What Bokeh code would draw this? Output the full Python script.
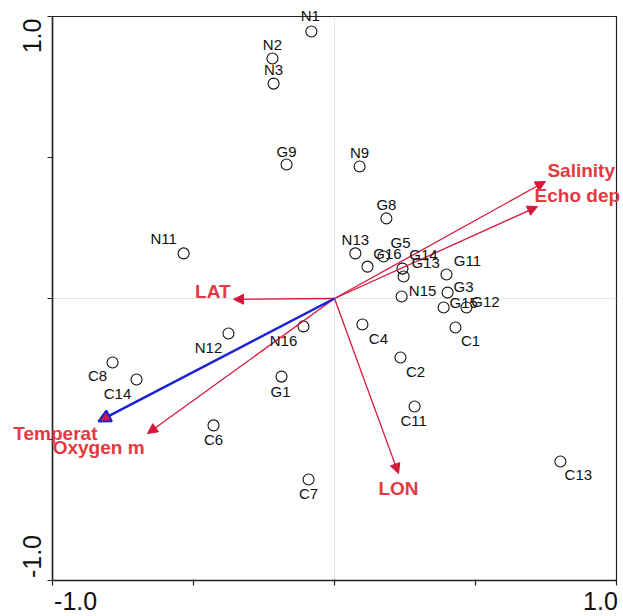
from bokeh.plotting import figure
from bokeh.models import (ColumnDataSource, Range1d, Arrow, NormalHead,
                          FixedTicker, CustomJSTickFormatter)
from bokeh.core.properties import value
from bokeh.embed import file_html
from bokeh.resources import INLINE

# ---- site scores ----
site_names = ["N1", "N2", "N3", "G9", "N9", "G8", "N13", "N11", "G16", "G5", "G14", "G13",
              "G11", "G3", "N15", "G15", "G12", "C1", "C4", "C2", "C11", "C13", "C7", "C6",
              "G1", "N16", "N12", "C14", "C8"]
site_x = [-0.082, -0.220, -0.216, -0.170, 0.089, 0.184, 0.074, -0.535, 0.117, 0.174, 0.241, 0.245,
          0.397, 0.401, 0.238, 0.387, 0.468, 0.429, 0.099, 0.234, 0.284, 0.801, -0.092, -0.429,
          -0.188, -0.110, -0.376, -0.702, -0.787]
site_y = [0.947, 0.851, 0.762, 0.475, 0.468, 0.284, 0.160, 0.160, 0.113, 0.149, 0.106, 0.078,
          0.085, 0.021, 0.007, -0.032, -0.032, -0.103, -0.092, -0.209, -0.383, -0.578, -0.642, -0.450,
          -0.277, -0.099, -0.124, -0.287, -0.227]
# label placement (pixels, x right / y down)
label_dx = [-1, 0, 0, 0, 0, 0, 0, -20, 20, 17, 21, 22,
            21, 16, 21, 20, 19, 15, 16, 15, -1, 18, 0, 0,
            -1, -20, -20, -19, -15]
label_dy = [-16, -14, -14, -13, -14, -14, -14, -15, -13, -14, -14, -14,
            -14, -6, -6, -5, -6, 13, 14, 14, 14, 13, 14, 14,
            15, 14, 14, 14, 13]

# ---- environmental variables (biplot arrows) ----
env_names = ["Salinity", "Echo dep", "LAT", "LON", "Oxygen m", "Temperat"]
env_x = [0.748, 0.720, -0.358, 0.227, -0.663, -0.837]
env_y = [0.415, 0.326, -0.003, -0.621, -0.479, -0.436]
env_align = ["left", "left", "right", "center", "right", "right"]
env_dx = [2, -3, -3, 0, -3, -1]
env_dy = [-11, -11, -8, 15, 14, 12]

# ---- axes ----
axis_ticks = [-1.0, -0.5, 0.0, 0.5, 1.0]
x_label_pos = [-0.918, 0.943]
y_label_pos = [-0.915, 0.931]
tick_labels = ["-1.0", "1.0"]

RED_TXT = "#e23a3f"
RED_LN = "#d8163a"
BLUE = "#1a22d8"
FONT = "Liberation Sans"

p = figure(width=623, height=616, x_range=Range1d(-1, 1), y_range=Range1d(-1, 1),
           output_backend="svg", toolbar_location=None,
           min_border_left=52, min_border_right=7, min_border_top=16, min_border_bottom=36)

p.outline_line_color = "#222222"
p.outline_line_width = 1.2

fmt_code = "return tick < 0 ? '%s' : '%s'" % (tick_labels[0], tick_labels[1])
for ax, pos in ((p.xaxis, x_label_pos), (p.yaxis, y_label_pos)):
    ax.ticker = FixedTicker(ticks=pos, minor_ticks=axis_ticks)
    ax.formatter = CustomJSTickFormatter(code=fmt_code)
    ax.axis_line_color = "#222222"
    ax.axis_line_width = 1.5
    ax.major_tick_line_color = None
    ax.major_tick_out = 0
    ax.major_tick_in = 0
    ax.minor_tick_line_color = "#222222"
    ax.minor_tick_line_width = 1.2
    ax.minor_tick_out = 5
    ax.minor_tick_in = 1
    ax.major_label_text_font = FONT
    ax.major_label_text_font_size = "25px"
    ax.major_label_text_color = "#111111"
p.xaxis.major_label_standoff = 6
p.yaxis.major_label_standoff = 6
p.yaxis.major_label_orientation = "vertical"

p.xgrid.ticker = FixedTicker(ticks=[0])
p.ygrid.ticker = FixedTicker(ticks=[0])
p.xgrid.grid_line_color = "#e6e6e6"
p.ygrid.grid_line_color = "#e6e6e6"

# sites
src = ColumnDataSource(dict(x=site_x, y=site_y, name=site_names, dx=label_dx, dy=label_dy))
p.scatter("x", "y", source=src, marker="circle", size=11, fill_color=None,
          line_color="#111111", line_width=1.1)
p.text("x", "y", text="name", source=src, x_offset="dx", y_offset="dy",
       text_align="center", text_baseline="middle", text_font=value(FONT),
       text_font_size="15px", text_color="#111111", level="overlay")

# arrows
n = len(env_names)
red_idx = [i for i in range(n) if env_names[i] != "Temperat"]
blue_idx = [i for i in range(n) if env_names[i] == "Temperat"]
red_src = ColumnDataSource(dict(x0=[0.0] * len(red_idx), y0=[0.0] * len(red_idx),
                                x1=[env_x[i] for i in red_idx], y1=[env_y[i] for i in red_idx]))
blue_src = ColumnDataSource(dict(x0=[0.0] * len(blue_idx), y0=[0.0] * len(blue_idx),
                                 x1=[env_x[i] for i in blue_idx], y1=[env_y[i] for i in blue_idx]))
p.add_layout(Arrow(source=red_src, x_start="x0", y_start="y0", x_end="x1", y_end="y1",
                   line_color=RED_LN, line_width=1.3,
                   end=NormalHead(size=10, fill_color=RED_LN, line_color=RED_LN, line_width=1)))
p.add_layout(Arrow(source=blue_src, x_start="x0", y_start="y0", x_end="x1", y_end="y1",
                   line_color=BLUE, line_width=2.5,
                   end=NormalHead(size=12, fill_color=RED_LN, line_color=BLUE, line_width=2)))

env_src = ColumnDataSource(dict(x=env_x, y=env_y, name=env_names, align=env_align,
                                dx=env_dx, dy=env_dy))
p.text("x", "y", text="name", source=env_src, x_offset="dx", y_offset="dy",
       text_align="align", text_baseline="middle", text_font=value(FONT),
       text_font_size="19px", text_font_style="bold", text_color=RED_TXT, level="overlay")

open("out.html", "w").write(file_html(p, INLINE))
